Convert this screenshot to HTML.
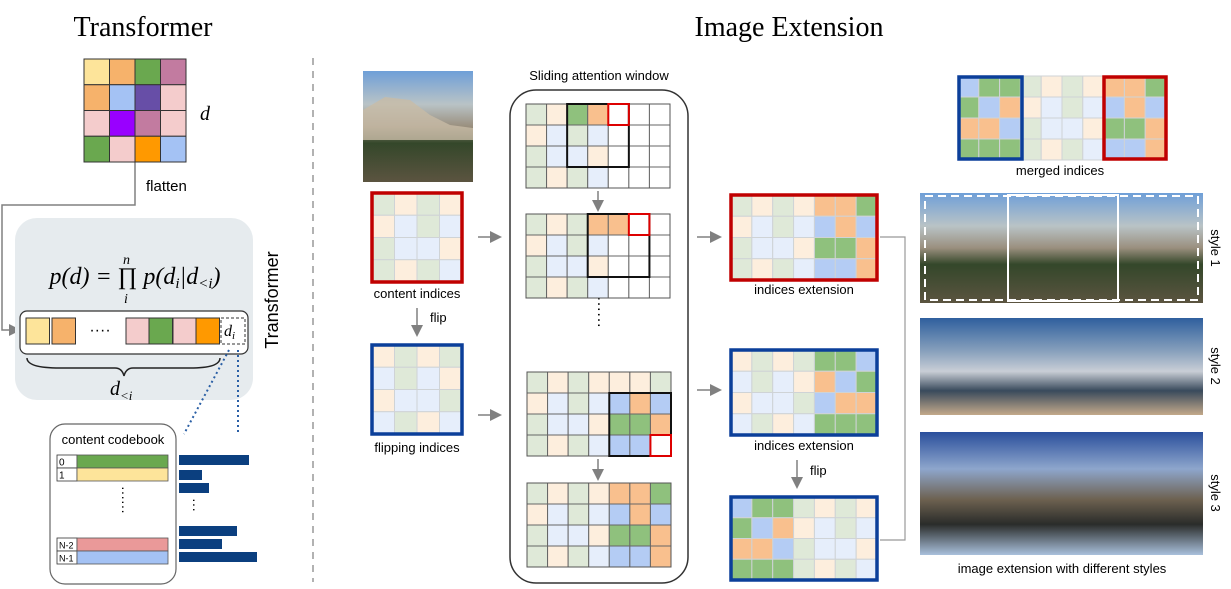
<!DOCTYPE html>
<html><head><meta charset="utf-8">
<style>
html,body{margin:0;padding:0;background:#fff;}
svg{display:block;}
text{font-family:"Liberation Sans",sans-serif;}
.serif{font-family:"Liberation Serif",serif;}
</style></head>
<body>
<svg id="s" width="1231" height="589" viewBox="0 0 1231 589" xmlns="http://www.w3.org/2000/svg">
<defs>
<marker id="ah" markerWidth="8" markerHeight="8" refX="6" refY="4" orient="auto"><path d="M0,0 L8,4 L0,8 z" fill="#808080"/></marker>
<linearGradient id="ph" x1="0" y1="0" x2="0" y2="1">
<stop offset="0" stop-color="#6f9fd8"/><stop offset="0.3" stop-color="#b9c3c6"/><stop offset="0.5" stop-color="#9a8f7e"/><stop offset="0.65" stop-color="#34472a"/><stop offset="1" stop-color="#5b5440"/></linearGradient>
<linearGradient id="ph2" x1="0" y1="0" x2="0" y2="1">
<stop offset="0" stop-color="#2f5f9e"/><stop offset="0.35" stop-color="#8aa2bd"/><stop offset="0.55" stop-color="#c9ced6"/><stop offset="0.75" stop-color="#394a5c"/><stop offset="1" stop-color="#c3a98a"/></linearGradient>
<linearGradient id="ph3" x1="0" y1="0" x2="0" y2="1">
<stop offset="0" stop-color="#2a4f9c"/><stop offset="0.3" stop-color="#8ea6cc"/><stop offset="0.55" stop-color="#6d6150"/><stop offset="0.75" stop-color="#2a2c2a"/><stop offset="1" stop-color="#a9c0dc"/></linearGradient>
</defs>

<text x="143" y="36" font-size="28" text-anchor="middle" class="serif">Transformer</text>
<text x="789" y="36" font-size="28" text-anchor="middle" class="serif">Image Extension</text>
<line x1="313" y1="58" x2="313" y2="582" stroke="#999" stroke-width="1.5" stroke-dasharray="7,6"/>

<g id="left">
<text x="200" y="120" font-size="20" font-style="italic" class="serif">d</text>
<polyline points="135,162 135,205 2,205 2,330 18,330" fill="none" stroke="#808080" stroke-width="1.5" marker-end="url(#ah)"/>
<text x="146" y="191" font-size="15">flatten</text>
<rect x="15" y="218" width="238" height="182" rx="22" fill="#e6ebee"/>
<text x="135" y="284" font-size="24" text-anchor="middle" font-style="italic" class="serif">p(d) = ∏ p(d<tspan font-size="15" dy="4">i</tspan><tspan dy="-4">|d</tspan><tspan font-size="15" dy="4">&lt;i</tspan><tspan dy="-4">)</tspan></text>
<text x="123" y="264" font-size="14" font-style="italic" class="serif">n</text>
<text x="124" y="303" font-size="14" font-style="italic" class="serif">i</text>
<rect x="20" y="311" width="228" height="43" rx="7" fill="#fff" stroke="#333" stroke-width="1.2"/>
<text x="100" y="335" font-size="16" text-anchor="middle">····</text>
<rect x="221" y="318" width="24" height="26" fill="#fff" stroke="#333" stroke-dasharray="3,2"/>
<text x="224" y="336" font-size="16" font-style="italic" class="serif">d<tspan font-size="11" dy="3">i</tspan></text>
<path d="M27,358 Q27,368 60,368 L115,368 Q122,368 124,376 Q126,368 133,368 L190,368 Q220,368 220,358" fill="none" stroke="#222" stroke-width="1.5"/>
<text x="110" y="395" font-size="20" font-style="italic" class="serif">d<tspan font-size="13" dy="5">&lt;i</tspan></text>
<text transform="translate(278,300) rotate(-90)" font-size="18" text-anchor="middle">Transformer</text>
<line x1="229" y1="350" x2="184" y2="434" stroke="#2a5fa5" stroke-width="2" stroke-dasharray="2,3"/>
<line x1="238" y1="350" x2="238" y2="433" stroke="#2a5fa5" stroke-width="2" stroke-dasharray="2,3"/>
<rect x="50" y="424" width="126" height="160" rx="15" fill="#fff" stroke="#666" stroke-width="1.2"/>
<text x="113" y="444" font-size="13" text-anchor="middle">content codebook</text>
<text x="124" y="500" font-size="14" text-anchor="middle" writing-mode="tb">······</text>
<text x="195" y="505" font-size="14" text-anchor="middle" writing-mode="tb">···</text>
</g>

<g id="mid">
<rect x="363" y="71" width="110" height="111" fill="url(#ph)"/>
<path d="M363,110 L385,97 L410,100 L430,115 L450,125 L473,128 L473,140 L363,140z" fill="#c8bba6" opacity="0.8"/>
<text x="417" y="298" font-size="13" text-anchor="middle">content indices</text>
<line x1="417" y1="308" x2="417" y2="334" stroke="#808080" stroke-width="1.5" marker-end="url(#ah)"/>
<text x="430" y="322" font-size="13">flip</text>
<text x="417" y="452" font-size="13" text-anchor="middle">flipping indices</text>
<line x1="478" y1="237" x2="499" y2="237" stroke="#808080" stroke-width="1.5" marker-end="url(#ah)"/>
<line x1="478" y1="415" x2="499" y2="415" stroke="#808080" stroke-width="1.5" marker-end="url(#ah)"/>
<rect x="510" y="90" width="178" height="493" rx="26" fill="none" stroke="#333" stroke-width="1.5"/>
<text x="599" y="80" font-size="13" text-anchor="middle">Sliding attention window</text>
<line x1="598" y1="191" x2="598" y2="209" stroke="#808080" stroke-width="1.5" marker-end="url(#ah)"/>
<line x1="598" y1="459" x2="598" y2="478" stroke="#808080" stroke-width="1.5" marker-end="url(#ah)"/>
<text x="599" y="312" font-size="16" text-anchor="middle" writing-mode="tb">······</text>
<line x1="697" y1="237" x2="719" y2="237" stroke="#808080" stroke-width="1.5" marker-end="url(#ah)"/>
<line x1="697" y1="390" x2="719" y2="390" stroke="#808080" stroke-width="1.5" marker-end="url(#ah)"/>
<text x="804" y="294" font-size="13" text-anchor="middle">indices extension</text>
<text x="804" y="450" font-size="13" text-anchor="middle">indices extension</text>
<line x1="797" y1="460" x2="797" y2="486" stroke="#808080" stroke-width="1.5" marker-end="url(#ah)"/>
<text x="810" y="475" font-size="13">flip</text>
<polyline points="880,237 905,237 905,540 880,540" fill="none" stroke="#999" stroke-width="1.2"/>
</g>

<g id="right">
<text x="1060" y="175" font-size="13" text-anchor="middle">merged indices</text>
<rect x="920" y="193" width="283" height="110" fill="url(#ph)"/>
<rect x="925" y="196" width="273" height="104" fill="none" stroke="#fff" stroke-width="2" stroke-dasharray="8,5"/>
<rect x="1008" y="195" width="110" height="106" fill="none" stroke="#fff" stroke-width="2"/>
<rect x="920" y="318" width="283" height="97" fill="url(#ph2)"/>
<rect x="920" y="432" width="283" height="123" fill="url(#ph3)"/>
<text transform="translate(1211,248) rotate(90)" font-size="13" text-anchor="middle">style 1</text>
<text transform="translate(1211,366) rotate(90)" font-size="13" text-anchor="middle">style 2</text>
<text transform="translate(1211,493) rotate(90)" font-size="13" text-anchor="middle">style 3</text>
<text x="1062" y="573" font-size="13" text-anchor="middle">image extension with different styles</text>
</g>
</svg>
<script>
const NS='http://www.w3.org/2000/svg';
const svg=document.getElementById('s');
const C={Y:'#fde49a',O:'#f6b26b',G:'#6aa84f',M:'#c27ba0',P:'#f4cccc',B:'#a4c2f4',V:'#674ea7',U:'#9900ff',R:'#ff9900',
 g:'#dfe9d8',o:'#fdeedd',b:'#e6eefb','.':'#ffffff',
 H:'#8fc17d',F:'#f9c08e',L:'#b4ccf4'};
const map2={G:'H',O:'F',B:'L'};
function rect(x,y,w,h,fill,stroke,sw){const r=document.createElementNS(NS,'rect');r.setAttribute('x',x);r.setAttribute('y',y);r.setAttribute('width',w);r.setAttribute('height',h);r.setAttribute('fill',fill);if(stroke){r.setAttribute('stroke',stroke);r.setAttribute('stroke-width',sw||1);}svg.appendChild(r);return r;}
function grid(name,x,y,w,h,rows,line,border,bw,idx){
 const nr=rows.length,nc=rows[0].length,cw=w/nc,ch=h/nr;
 rows.forEach((row,i)=>{[...row].forEach((k,j)=>{
  const key=idx?(map2[k]||k):k;
  const r=rect(x+j*cw,y+i*ch,cw,ch,C[key],line,1);
  
  
 });});
 if(border){const b=rect(x,y,w,h,'none',border,bw);
  
  }
 return {cw,ch};
}
function win(name,x,y,cw,ch,c0,r0,nc,nr,color,sw){const r=rect(x+c0*cw,y+r0*ch,nc*cw,nr*ch,'none',color,sw);
 
 }

grid('d-grid',84,59,102,103,['YOGM','OBVP','PUMP','GPRB'],'#333',null,0,false);
const seqX=[26,52,126,149,173,196],seqC=['Y','O','P','G','P','R'];
seqX.forEach((sx,i)=>{const r=rect(sx,318,23.5,26,C[seqC[i]],'#333',1);
 
 });
const cbY=[455,468,538,551],cbL=['0','1','N-2','N-1'],cbC=['#6aa84f','#fde49a','#ea9999','#a4c2f4'];
cbY.forEach((cy,i)=>{
 const a=rect(57,cy,20,13,'#fff','#333',0.8);
 
 
 const b=rect(77,cy,91,13,cbC[i],'#555',0.8);
 
 
 const t=document.createElementNS(NS,'text');t.setAttribute('x',59);t.setAttribute('y',cy+10.5);t.setAttribute('font-size',i<2?10:9);t.textContent=cbL[i];
 
 
 svg.appendChild(t);
});
const probY=[455,470,483,526,539,552],probW=[70,23,30,58,43,78];
probY.forEach((py,i)=>{const r=rect(179,py,probW[i],10,'#0b3f7f');
 
 });

const pale='#cfd3d6';
grid('content-indices',372,193,90,89,['gogo','obgb','gbbo','gogb'],pale,'#c00000',3.5,true);
grid('flipping-indices',372,345,90,89,['ogog','bgbo','obbg','bgob'],pale,'#0b3f9a',3.5,true);
let g=grid('window-step-1',526,104,144,84,['goGF...','obgb...','gbbo...','gogb...'],'#666','#555',1,true);
win('window-1',526,104,g.cw,g.ch,2,0,3,3,'#111',2);win('window-1-target',526,104,g.cw,g.ch,4,0,1,1,'#d00',2);
g=grid('window-step-2',526,214,144,84,['gogFF..','obgb...','gbbo...','gogb...'],'#666','#555',1,true);
win('window-2',526,214,g.cw,g.ch,3,0,3,3,'#111',2);win('window-2-target',526,214,g.cw,g.ch,5,0,1,1,'#d00',2);
g=grid('window-step-3',527,372,144,84,['gogooog','obgbLFL','gbboHHF','gogbLL.'],'#666','#555',1,false);
win('window-3',527,372,g.cw,g.ch,4,1,3,3,'#111',2);win('window-3-target',527,372,g.cw,g.ch,6,3,1,1,'#d00',2);
grid('window-step-4',527,483,144,84,['gogoFFH','obgbLFL','gbboHHF','gogbLLF'],'#666','#555',1,true);
grid('indices-extension-1',731,195,146,85,['gogoFFH','obgbLFL','gbboHHF','gogbLLF'],pale,'#c00000',3.5,true);
grid('indices-extension-2',731,350,146,85,['ogogHHL','bgboFLH','obbgLFF','bgobHHH'],pale,'#0b3f9a',3.5,true);
grid('flipped-extension',731,497,146,83,['LHHgogo','HLFobgb','FFLgbbo','HHHgogb'],pale,'#0b3f9a',3.5,true);
grid('merged-indices',958,76,208,84,['LHHgogoFFH','HLFobgbLFL','FFLgbboHHF','HHHgogbLLF'],pale,null,0,true);
const mb1=rect(959,77,63,82,'none','#0b3f9a',3.5);


const mb2=rect(1104,77,62,82,'none','#c00000',3.5);


</script>
</body></html>
